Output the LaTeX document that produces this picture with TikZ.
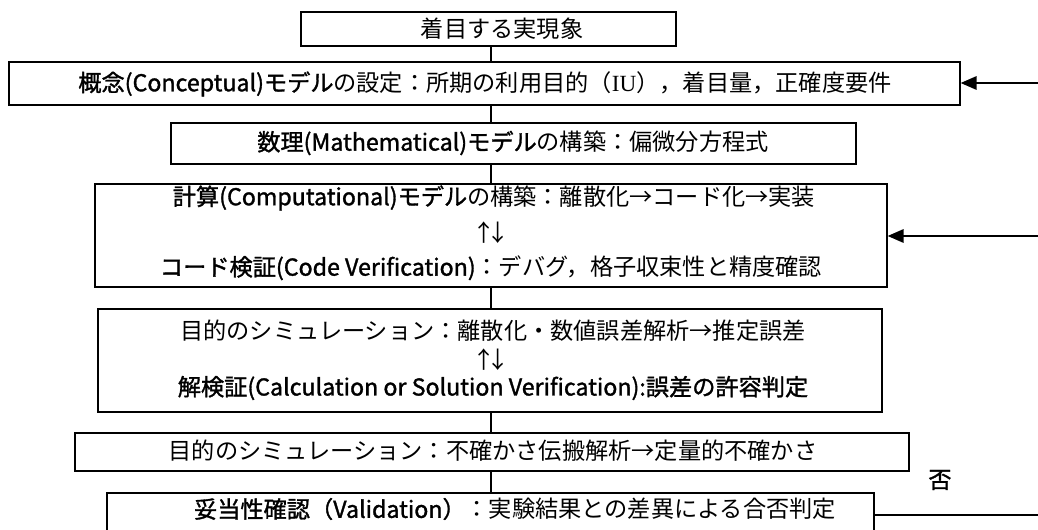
\documentclass[tikz,border=0pt]{standalone}
\usepackage{fontspec}
\setmainfont{Noto Sans CJK JP}
\newfontfamily\gthfont[FakeBold=1.4]{Noto Sans CJK JP}
\newfontfamily\serifl{Liberation Serif}
\usetikzlibrary{arrows.meta}
\tikzset{
  box/.style={draw, line width=0.9pt, inner sep=0pt, anchor=center},
  txt/.style={inner sep=0pt, anchor=center, font=\fontsize{17.4pt}{20pt}\selectfont},
  conn/.style={line width=0.9pt},
  fb/.style={line width=1.6pt, -{Triangle[length=12pt,width=10pt]}}
}
\newcommand{\gth}[1]{{\gthfont #1}}
\newcommand{\updn}{↑\kern-0.42em↓}
\begin{document}
\begin{tikzpicture}[x=0.75pt,y=-0.75pt]
\useasboundingbox (0,0) rectangle (1038,530);
\clip (0,0) rectangle (1038,530);
\coordinate (spine) at (491,0);
% boxes
\node[box, minimum width=281.25pt, minimum height=25.5pt] (b1) at (488.5,29) {};
\node[box, minimum width=713.25pt, minimum height=32.25pt] (b2) at (484.5,83.5) {};
\node[box, minimum width=513.75pt, minimum height=30.75pt] (b3) at (513.5,143.5) {};
\node[box, minimum width=594pt, minimum height=77.25pt] (b4) at (491,235.5) {};
\node[box, minimum width=588pt, minimum height=77.25pt] (b5) at (490,360.5) {};
\node[box, minimum width=625.5pt, minimum height=28.5pt] (b6) at (492,452) {};
\node[box, minimum width=575.25pt, minimum height=35.25pt] (b7) at (490.5,516.5) {};
% texts
\node[txt] (t1) at (502,29) {着目する実現象};
\node[txt] (t2) at (485,84) {\gth{概念(Conceptual)モデル}の設定：所期の利用目的（{\serifl IU}），着目量，正確度要件};
\node[txt] (t3) at (513,143) {\gth{数理(Mathematical)モデル}の構築：偏微分方程式};
\node[txt] (t4a) at (494,198) {\gth{計算(Computational)モデル}の構築：離散化→コード化→実装};
\node[txt] (t4b) at (491,233) {\updn};
\node[txt] (t4c) at (491,268) {\gth{コード検証(Code Verification)}：デバグ，格子収束性と精度確認};
\node[txt] (t5a) at (493,331) {目的のシミュレーション：離散化・数値誤差解析→推定誤差};
\node[txt] (t5b) at (491,360) {\updn};
\node[txt] (t5c) at (493,388) {\gth{解検証(Calculation or Solution Verification):誤差の許容判定}};
\node[txt] (t6) at (493,451) {目的のシミュレーション：不確かさ伝搬解析→定量的不確かさ};
\node[txt] (t7) at (515,509) {\gth{妥当性確認（Validation）}：実験結果との差異による合否判定};
\node[txt] (no) at (940,480) {\gth{否}};
% connectors
\draw[conn] (b1.south -| spine) -- (b2.north -| spine);
\draw[conn] (b2.south -| spine) -- (b3.north -| spine);
\draw[conn] (b3.south -| spine) -- (b4.north -| spine);
\draw[conn] (b4.south -| spine) -- (b5.north -| spine);
\draw[conn] (b5.south -| spine) -- (b6.north -| spine);
\draw[conn] (b6.south -| spine) -- (b7.north -| spine);
% feedback arrows
\coordinate (r1) at (1038,83);
\coordinate (r2) at (1038,236);
\coordinate (r3) at (1038,515);
\draw[fb] (r1) -- (r1 -| b2.east);
\draw[fb] (r2) -- (r2 -| b4.east);
\draw[conn] (r3 -| b7.east) -- (r3);
\end{tikzpicture}
\end{document}
